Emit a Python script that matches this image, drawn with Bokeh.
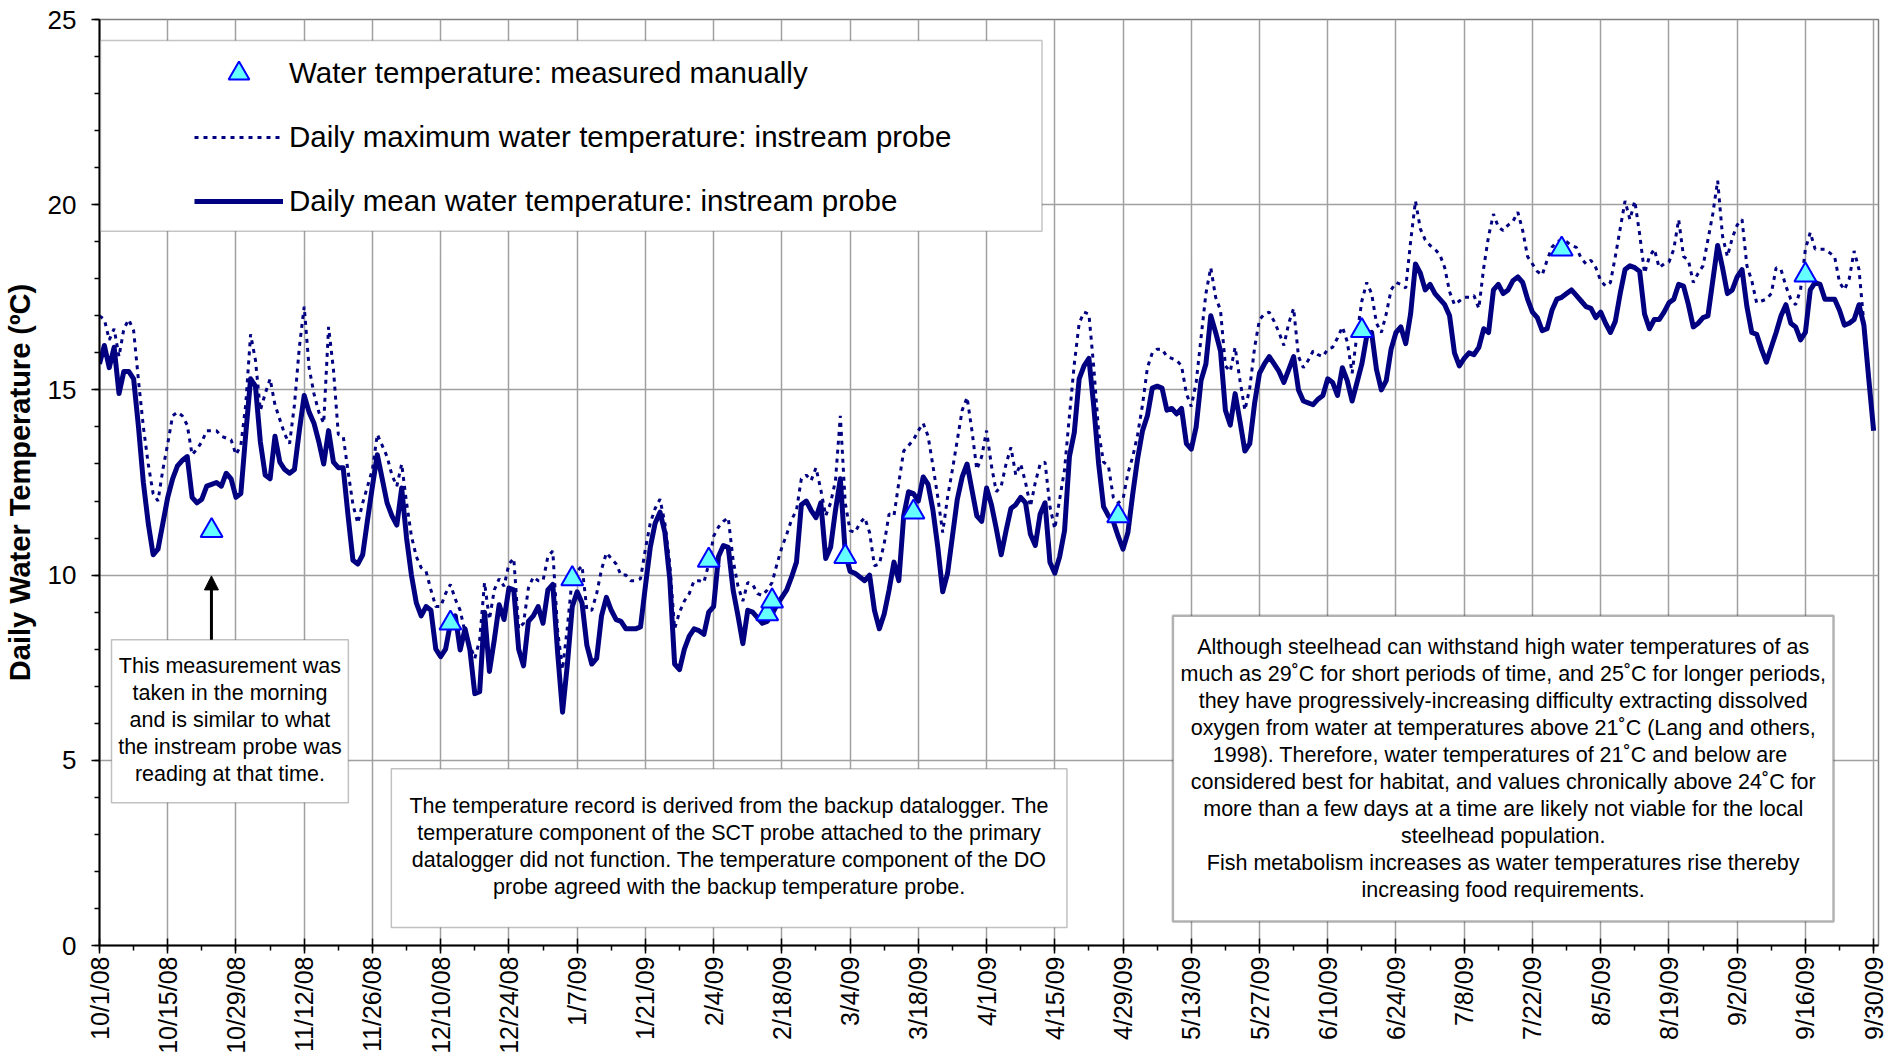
import numpy as np
import pandas as pd
from bokeh.plotting import figure
from bokeh.models import (Range1d, FixedTicker, SingleIntervalTicker, Legend, LegendItem,
                          BoxAnnotation, Label, Arrow, NormalHead, ColumnDataSource)
from bokeh.embed import file_html
from bokeh.resources import INLINE

# ---------------- data ----------------
start_date = "2008-10-01"

mean_temp = [
    15.7, 16.2, 15.6, 16.15, 14.9, 15.5, 15.5, 15.3, 14.0, 12.5,
    11.4, 10.55, 10.7, 11.4, 12.1, 12.6, 12.95, 13.1, 13.2, 12.1,
    11.95, 12.05, 12.4, 12.45, 12.5, 12.4, 12.75, 12.6, 12.1, 12.2,
    13.8, 15.3, 15.1, 13.6, 12.7, 12.6, 13.75, 13.05, 12.85, 12.75,
    12.85, 13.9, 14.85, 14.4, 14.1, 13.6, 13.0, 13.9, 13.05, 12.9,
    12.9, 11.6, 10.4, 10.3, 10.55, 11.5, 12.4, 13.25, 12.6, 11.95,
    11.6, 11.35, 12.35, 11.0, 10.0, 9.25, 8.9, 9.15, 9.05, 8.0,
    7.8, 8.0, 8.7, 8.9, 7.98, 8.55, 7.98, 6.8, 6.85, 9.0,
    7.4, 8.25, 9.2, 8.8, 9.65, 9.6, 8.0, 7.55, 8.75, 8.9,
    9.15, 8.7, 9.6, 9.75, 7.9, 6.3, 7.6, 9.15, 9.55, 9.25,
    8.1, 7.6, 7.75, 8.9, 9.4, 9.05, 8.8, 8.75, 8.55, 8.55,
    8.55, 8.6, 9.7, 10.75, 11.4, 11.7, 11.15, 9.9, 7.6, 7.45,
    8.0, 8.35, 8.55, 8.5, 8.4, 9.0, 9.15, 10.5, 10.8, 10.75,
    9.6, 8.9, 8.15, 9.05, 9.0, 8.85, 8.7, 8.75, 8.95, 9.2,
    9.4, 9.6, 9.95, 10.35, 11.9, 12.0, 11.75, 11.55, 11.95, 10.45,
    10.75, 11.75, 12.6, 10.6, 10.1, 10.05, 9.95, 9.85, 10.0, 9.05,
    8.55, 8.95, 9.6, 10.35, 9.85, 11.6, 12.25, 12.2, 12.0, 12.65,
    12.45, 11.75, 10.75, 9.55, 10.05, 11.05, 12.05, 12.65, 13.0, 12.3,
    11.6, 11.45, 12.35, 11.9, 11.25, 10.55, 11.2, 11.8, 11.9, 12.1,
    11.95, 11.1, 10.8, 11.65, 11.95, 10.35, 10.05, 10.5, 11.2, 13.2,
    13.85, 15.3, 15.65, 15.85, 14.55, 13.0, 11.85, 11.6, 11.45, 11.05,
    10.7, 11.15, 12.2, 13.15, 13.9, 14.3, 15.05, 15.1, 15.05, 14.45,
    14.5, 14.35, 14.5, 13.55, 13.4, 14.0, 15.25, 15.7, 17.0, 16.55,
    16.05, 14.45, 14.05, 14.9, 14.15, 13.35, 13.55, 14.65, 15.45, 15.7,
    15.9, 15.7, 15.5, 15.2, 15.55, 15.9, 15.0, 14.7, 14.65, 14.6,
    14.75, 14.85, 15.3, 15.2, 14.85, 15.6, 15.25, 14.7, 15.2, 15.7,
    16.45, 16.55, 15.55, 15.0, 15.25, 16.1, 16.55, 16.7, 16.25, 17.05,
    18.4, 18.15, 17.7, 17.85, 17.6, 17.45, 17.3, 17.0, 16.0, 15.65,
    15.85, 16.0, 15.95, 16.15, 16.65, 16.55, 17.7, 17.85, 17.6, 17.7,
    17.95, 18.05, 17.9, 17.45, 17.1, 16.95, 16.6, 16.65, 17.15, 17.45,
    17.5, 17.6, 17.7, 17.55, 17.4, 17.25, 17.2, 16.95, 17.1, 16.8,
    16.55, 16.85, 17.6, 18.25, 18.35, 18.3, 18.2, 17.05, 16.65, 16.9,
    16.9, 17.1, 17.35, 17.45, 17.85, 17.8, 17.3, 16.7, 16.8, 16.95,
    17.0, 17.95, 18.9, 18.3, 17.6, 17.7, 18.05, 18.25, 17.25, 16.55,
    16.5, 16.1, 15.75, 16.15, 16.55, 17.0, 17.3, 16.8, 16.7, 16.35,
    16.55, 17.7, 17.9, 17.85, 17.45, 17.45, 17.45, 17.15, 16.75, 16.8,
    16.9, 17.3, 16.75, 15.3, 13.9,
]

max_temp = [
    17.0, 16.9, 16.35, 16.65, 15.9, 16.65, 16.9, 16.6, 15.25, 14.0,
    13.0, 12.2, 12.0, 12.85, 13.55, 14.3, 14.4, 14.3, 14.05, 13.25,
    13.4, 13.6, 13.9, 13.9, 13.9, 13.75, 13.7, 13.65, 13.25, 13.5,
    14.6, 16.5, 15.8, 14.45, 14.9, 15.3, 14.6, 14.2, 13.8, 13.55,
    14.6, 16.15, 17.25, 15.6, 14.9, 14.4, 14.1, 16.7, 15.55, 13.8,
    13.75, 12.8, 11.9, 11.4, 11.95, 12.4, 12.85, 13.8, 13.5, 13.2,
    12.7, 12.4, 13.0, 11.95, 11.05, 10.5, 10.2, 10.1, 9.6, 9.15,
    9.15, 9.5, 9.75, 9.35, 9.05, 8.45, 8.1, 7.75, 8.25, 9.8,
    8.8, 9.6, 9.9, 9.7, 10.3, 10.45, 8.55, 8.7, 9.65, 9.95,
    9.85, 9.85, 10.5, 10.65, 8.5, 7.45, 8.6, 9.95, 10.1, 10.25,
    9.05, 9.05, 9.5, 10.15, 10.6, 10.45, 10.3, 10.0, 10.0, 9.85,
    9.85, 9.9, 10.7, 11.4, 11.8, 12.05, 11.4, 10.3, 8.55, 9.0,
    9.3, 9.5, 9.85, 9.85, 9.8, 10.3, 11.05, 11.3, 11.45, 11.55,
    10.4, 9.7, 9.3, 9.8, 9.75, 9.5, 9.45, 9.6, 9.8, 10.3,
    10.75, 11.1, 11.5, 11.75, 12.6, 12.7, 12.55, 12.9, 12.3, 11.6,
    11.95, 12.55, 14.3, 11.95, 11.2, 11.15, 11.4, 11.55, 11.15, 10.25,
    10.3, 10.85, 11.65, 11.6, 12.5, 13.35, 13.5, 13.65, 13.9, 14.1,
    13.75, 12.95, 12.1, 11.15, 12.1, 12.85, 13.65, 14.45, 14.8, 13.9,
    12.85, 13.2, 13.9, 12.95, 12.25, 12.4, 13.0, 13.45, 12.7, 13.0,
    12.5, 11.85, 12.5, 13.0, 13.05, 11.85, 11.25, 12.05, 12.85, 14.3,
    15.7, 16.8, 17.1, 17.05, 15.6, 13.85, 13.05, 12.95, 12.1, 11.95,
    12.05, 12.75, 13.2, 13.8, 14.6, 15.6, 16.0, 16.1, 16.1, 15.9,
    15.85, 15.8, 15.65, 14.9, 14.55, 15.2, 16.4, 17.6, 18.3, 17.5,
    17.15, 15.65, 15.5, 16.15, 15.25, 14.45, 15.05, 16.15, 16.9, 17.05,
    17.1, 16.85, 16.55, 16.2, 16.8, 17.2, 15.9, 15.6, 15.8, 16.05,
    15.95, 15.9, 16.1, 16.15, 16.4, 16.7, 16.3, 15.45, 16.5, 17.4,
    17.9, 17.6, 16.8, 16.55, 17.05, 17.7, 17.9, 17.85, 17.75, 19.0,
    20.1, 19.35, 19.05, 18.9, 18.8, 18.65, 18.3, 17.65, 17.3, 17.4,
    17.5, 17.5, 17.55, 17.2, 18.3, 19.15, 19.75, 19.4, 19.3, 19.45,
    19.55, 19.8, 19.3, 18.6, 18.4, 18.2, 18.1, 18.5, 18.85, 19.0,
    19.05, 19.0, 18.9, 18.85, 18.55, 18.4, 18.5, 18.3, 17.95, 17.8,
    17.9, 18.6, 19.35, 20.1, 19.6, 20.1, 19.2, 18.15, 18.6, 18.8,
    18.3, 18.4, 18.45, 18.8, 19.6, 18.6, 18.5, 17.9, 18.15, 18.35,
    19.05, 19.75, 20.65, 19.15, 18.6, 19.1, 19.45, 19.6, 18.35, 17.95,
    17.35, 17.4, 17.45, 17.6, 18.3, 18.25, 17.8, 17.45, 17.3, 17.7,
    18.8, 19.25, 18.8, 18.8, 18.8, 18.7, 18.6, 17.9, 17.7, 18.0,
    18.75, 18.25, 16.8, 15.3, 14.0,
]

manual_dates = ["2008-10-24", "2008-12-12", "2009-01-06", "2009-02-03", "2009-02-15",
                "2009-02-16", "2009-03-03", "2009-03-17", "2009-04-28", "2009-06-17",
                "2009-07-28", "2009-09-16"]
manual_temp = [11.2, 8.7, 9.9, 10.4, 8.95, 9.3, 10.5, 11.7, 11.6, 16.6, 18.8, 18.1]

tick_labels = ["10/1/08", "10/15/08", "10/29/08", "11/12/08", "11/26/08", "12/10/08",
               "12/24/08", "1/7/09", "1/21/09", "2/4/09", "2/18/09", "3/4/09", "3/18/09",
               "4/1/09", "4/15/09", "4/29/09", "5/13/09", "5/27/09", "6/10/09", "6/24/09",
               "7/8/09", "7/22/09", "8/5/09", "8/19/09", "9/2/09", "9/16/09", "9/30/09"]

note_left = ["This measurement was", "taken in the morning", "and is similar to what",
             "the instream probe was", "reading at that time."]
note_mid = ["The temperature record is derived from the backup datalogger. The",
            "temperature component of the SCT probe attached to the primary",
            "datalogger did not function. The temperature component of the DO",
            "probe agreed with the backup temperature probe."]
note_right = ["Although steelhead can withstand high water temperatures of as",
              "much as 29˚C for short periods of time, and 25˚C for longer periods,",
              "they have progressively-increasing difficulty extracting dissolved",
              "oxygen from water at temperatures above 21˚C (Lang and others,",
              "1998).  Therefore, water temperatures of 21˚C and below are",
              "considered best for habitat, and values chronically above 24˚C for",
              "more than a few days at a time are likely not viable for the local",
              "steelhead population.",
              "Fish metabolism increases as water temperatures rise thereby",
              "increasing food requirements."]

assert len(mean_temp) == 365 and len(max_temp) == 365

# ---------------- derived positions ----------------
t0 = pd.Timestamp(start_date)
days = list(range(len(mean_temp)))
manual_days = [(pd.Timestamp(d) - t0).days for d in manual_dates]
tick_days = list(range(0, 365, 14))
minor_days = list(range(0, 365, 7))

# reference-pixel -> data helpers for annotations (frame: x 98..1878, y 19..946)
X0, PXD = 98.0, 1780.0 / 365.0
Y0, PXT = 946.0, 927.0 / 25.0
def dx(px):
    return (px - X0) / PXD
def dy(py):
    return (Y0 - py) / PXT

FONT = "Liberation Sans"
NAVY = "#000080"

p = figure(width=1890, height=1056, output_backend="svg", toolbar_location=None,
           x_range=Range1d(0, 365), y_range=Range1d(0, 25),
           min_border_left=98, min_border_right=12, min_border_top=19, min_border_bottom=110,
           background_fill_color="white", border_fill_color="white")
p.outline_line_color = "#808080"
p.outline_line_width = 1.5

# grid
p.xgrid.grid_line_color = "#a0a0a0"
p.ygrid.grid_line_color = "#a0a0a0"
p.xgrid.grid_line_width = 1.5
p.ygrid.grid_line_width = 1.5

# x axis
xt = FixedTicker(ticks=tick_days, minor_ticks=minor_days)
p.xaxis.ticker = xt
p.xgrid.ticker = xt
p.xaxis.major_label_overrides = {d: lab for d, lab in zip(tick_days, tick_labels)}
p.xaxis.major_label_orientation = np.pi / 2
p.xaxis.major_label_text_font = FONT
p.xaxis.major_label_text_font_size = "25px"
p.xaxis.major_label_text_color = "black"
p.xaxis.major_label_standoff = 3
p.xaxis.major_tick_in = 7
p.xaxis.major_tick_out = 8
p.xaxis.minor_tick_in = 0
p.xaxis.minor_tick_out = 5

# y axis
yt = SingleIntervalTicker(interval=5, num_minor_ticks=5)
p.yaxis.ticker = yt
p.ygrid.ticker = yt
p.yaxis.major_label_text_font = FONT
p.yaxis.major_label_text_font_size = "26px"
p.yaxis.major_label_text_color = "black"
p.yaxis.major_label_standoff = 15
p.yaxis.major_tick_in = 0
p.yaxis.major_tick_out = 8
p.yaxis.minor_tick_in = 0
p.yaxis.minor_tick_out = 5
p.yaxis.axis_label = "Daily Water Temperature (ºC)"
p.yaxis.axis_label_text_font = FONT
p.yaxis.axis_label_text_font_size = "29px"
p.yaxis.axis_label_text_font_style = "bold"
p.yaxis.axis_label_text_color = "black"
p.yaxis.axis_label_standoff = 9

for ax in (p.xaxis, p.yaxis):
    ax.axis_line_color = "black"
    ax.axis_line_width = 2
    ax.major_tick_line_color = "black"
    ax.major_tick_line_width = 1.5
    ax.minor_tick_line_color = "black"
    ax.minor_tick_line_width = 1.5

# data
src = ColumnDataSource(dict(day=days, mean=mean_temp, mx=max_temp))
max_r = p.line("day", "mx", source=src, line_color=NAVY, line_width=3, line_dash="4 5")
mean_r = p.line("day", "mean", source=src, line_color=NAVY, line_width=5, line_join="round")
tri = p.scatter(manual_days, manual_temp, marker="triangle", size=22,
                fill_color="#66ffff", line_color="#0000ff", line_width=2)

# legend frame + legend
p.add_layout(BoxAnnotation(left=dx(99), right=dx(1041), top=dy(40), bottom=dy(231),
                           fill_color="white", fill_alpha=1.0,
                           line_color="#404040", line_width=1.5))
legend = Legend(items=[
    LegendItem(label="Water temperature: measured manually", renderers=[tri]),
    LegendItem(label="Daily maximum water temperature: instream probe", renderers=[max_r]),
    LegendItem(label="Daily mean water temperature: instream probe", renderers=[mean_r]),
], location=(95, 718), padding=0, margin=0, spacing=12, glyph_width=89, glyph_height=52,
    label_height=52, label_standoff=6, label_text_font=FONT, label_text_font_size="29.5px",
    label_text_color="black", border_line_alpha=0, background_fill_alpha=0)
p.add_layout(legend)

# note boxes
def note(lines, box, centers_y, cx, size="21.5px", lw=1.5, lc="#333333"):
    l, t, r, b = box
    p.add_layout(BoxAnnotation(left=dx(l), right=dx(r), top=dy(t), bottom=dy(b),
                               fill_color="white", fill_alpha=1.0,
                               line_color=lc, line_width=lw))
    for txt, yy in zip(lines, centers_y):
        p.add_layout(Label(x=dx(cx), y=dy(yy), text=txt, text_align="center",
                           text_baseline="middle", text_font=FONT, text_font_size=size,
                           text_color="black"))

note(note_left, (110, 640, 347, 803), [666 + 27 * i for i in range(5)], 228.5)
note(note_mid, (390, 769, 1066, 928), [806 + 27.3 * i for i in range(4)], 728)
note(note_right, (1172, 616, 1833, 922), [647 + 27.1 * i for i in range(10)], 1502.5,
     lw=2.5, lc="black")

# arrow pointing at the morning measurement
p.add_layout(Arrow(end=NormalHead(size=14, fill_color="black", line_color="black"),
                   x_start=dx(210), y_start=dy(640), x_end=dx(210), y_end=dy(576),
                   line_color="black", line_width=3))

open("out.html", "w").write(file_html(p, INLINE))
